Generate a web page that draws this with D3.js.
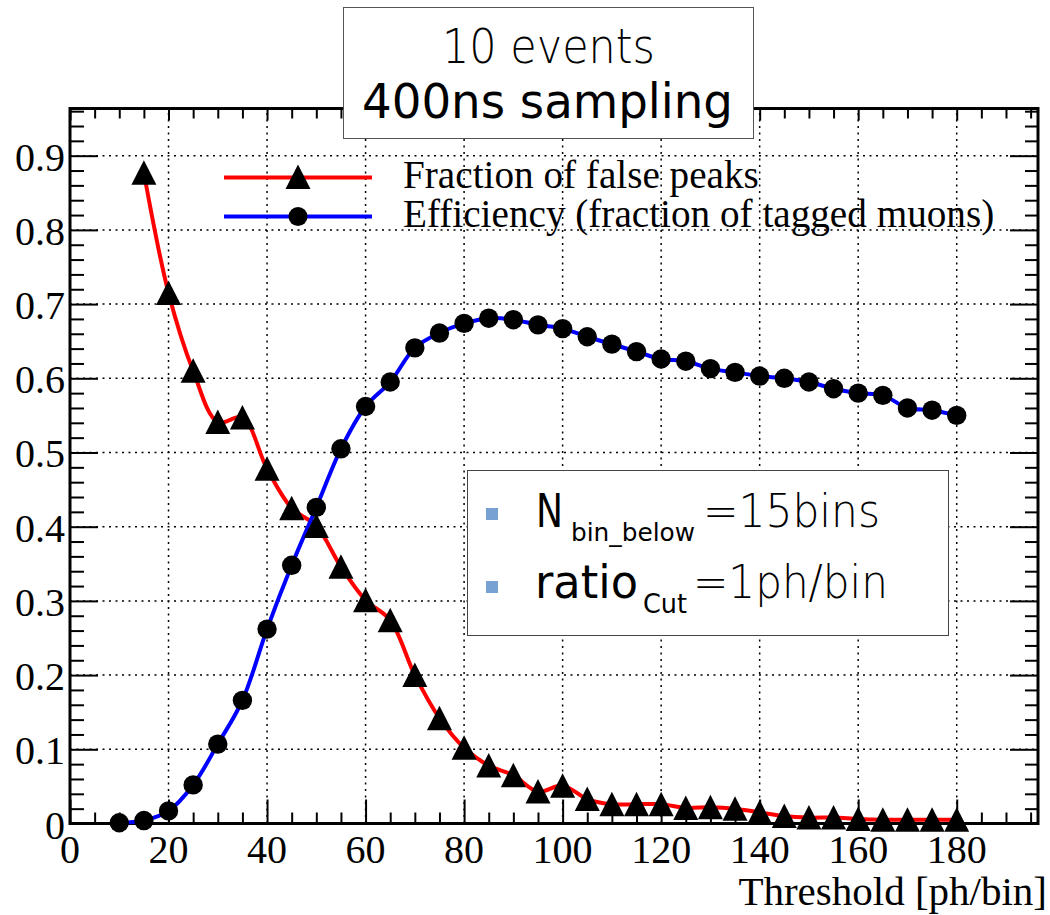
<!DOCTYPE html>
<html>
<head>
<meta charset="utf-8">
<script src="https://cdn.jsdelivr.net/npm/d3@7"></script>
<style>
  body { margin: 0; background: #fff; }
  svg { display: block; }
</style>
</head>
<body>
<script>
// threshold values [ph/bin]
var effX = [10, 15, 20, 25, 30, 35, 40, 45, 50, 55, 60, 65, 70, 75, 80, 85, 90, 95,
            100, 105, 110, 115, 120, 125, 130, 135, 140, 145, 150, 155, 160, 165, 170, 175, 180];
// efficiency (fraction of tagged muons)
var effY = [0.001, 0.004, 0.017, 0.052, 0.107, 0.166, 0.262, 0.348, 0.426, 0.505, 0.562, 0.595,
            0.641, 0.661, 0.674, 0.681, 0.679, 0.672, 0.667, 0.656, 0.646, 0.636, 0.626, 0.623,
            0.613, 0.608, 0.603, 0.600, 0.595, 0.586, 0.580, 0.577, 0.560, 0.557, 0.550];

var fakeX = [15, 20, 25, 30, 35, 40, 45, 50, 55, 60, 65, 70, 75, 80, 85, 90, 95,
             100, 105, 110, 115, 120, 125, 130, 135, 140, 145, 150, 155, 160, 165, 170, 175, 180];
// fraction of false peaks
var fakeY = [0.877, 0.715, 0.610, 0.541, 0.547, 0.478, 0.425, 0.401, 0.346, 0.301, 0.274,
             0.200, 0.142, 0.102, 0.078, 0.065, 0.043, 0.051, 0.033, 0.026, 0.026, 0.026,
             0.021, 0.022, 0.020, 0.015, 0.010, 0.008, 0.008, 0.006, 0.005, 0.005, 0.005, 0.005];

var xMajor = [0, 20, 40, 60, 80, 100, 120, 140, 160, 180];
var xMinor = [5, 10, 15, 25, 30, 35, 45, 50, 55, 65, 70, 75, 85, 90, 95, 105, 110, 115,
              125, 130, 135, 145, 150, 155, 165, 170, 175, 185, 190, 195];
var yMajor = [0, 0.1, 0.2, 0.3, 0.4, 0.5, 0.6, 0.7, 0.8, 0.9];
var yMinor = [0.02, 0.04, 0.06, 0.08, 0.12, 0.14, 0.16, 0.18, 0.22, 0.24, 0.26, 0.28,
              0.32, 0.34, 0.36, 0.38, 0.42, 0.44, 0.46, 0.48, 0.52, 0.54, 0.56, 0.58,
              0.62, 0.64, 0.66, 0.68, 0.72, 0.74, 0.76, 0.78, 0.82, 0.84, 0.86, 0.88,
              0.92, 0.94, 0.96];

var legendLabels = ["Fraction of false peaks", "Efficiency (fraction of tagged muons)"];
var titleLines = ["10 events", "400ns sampling"];

var width = 1050,
    height = 915,
    frameLeft = 70,
    frameRight = 1038,
    frameTop = 108.5,
    frameBottom = 823.5;

var serif = "'Liberation Serif', 'Times New Roman', serif";
var sans = "'DejaVu Sans', sans-serif";

var svg = d3.select("body")
    .append("svg")
    .attr("width", width)
    .attr("height", height);

var xScale = d3.scaleLinear().domain([0, 196.5]).range([frameLeft, frameRight]);
var yScale = d3.scaleLinear().domain([0, 0.9636]).range([frameBottom, frameTop]);

// grid
var grid = svg.append("g")
    .attr("stroke", "#000")
    .attr("stroke-width", 1.5)
    .attr("stroke-dasharray", "2,4.5");
grid.selectAll("line.gx")
    .data(xMajor.slice(1))
    .enter()
    .append("line")
        .attr("x1", function(d) { return xScale(d); })
        .attr("x2", function(d) { return xScale(d); })
        .attr("y1", frameBottom)
        .attr("y2", frameTop);
grid.selectAll("line.gy")
    .data(yMajor.slice(1))
    .enter()
    .append("line")
        .attr("x1", frameLeft)
        .attr("x2", frameRight)
        .attr("y1", function(d) { return yScale(d); })
        .attr("y2", function(d) { return yScale(d); });

// axes: major + minor ticks on all four sides, pointing inward
function tickAxis(axis, vals, size, tr) {
    var g = svg.append("g")
        .attr("transform", tr)
        .call(axis.tickValues(vals).tickSize(-size).tickFormat(""));
    g.select(".domain").remove();
    g.selectAll(".tick line").attr("stroke", "#000").attr("stroke-width", 2);
    return g;
}
tickAxis(d3.axisBottom(xScale), xMinor, 11, "translate(0," + frameBottom + ")");
tickAxis(d3.axisBottom(xScale), xMajor, 24, "translate(0," + frameBottom + ")");
tickAxis(d3.axisTop(xScale), xMinor, 10, "translate(0," + frameTop + ")");
tickAxis(d3.axisTop(xScale), xMajor, 12, "translate(0," + frameTop + ")");
tickAxis(d3.axisLeft(yScale), yMinor, 14, "translate(" + frameLeft + ",0)");
tickAxis(d3.axisLeft(yScale), yMajor, 28, "translate(" + frameLeft + ",0)");
tickAxis(d3.axisRight(yScale), yMinor, 13, "translate(" + frameRight + ",0)");
tickAxis(d3.axisRight(yScale), yMajor, 28, "translate(" + frameRight + ",0)");

// tick labels
svg.append("g").selectAll("text")
    .data(xMajor)
    .enter()
    .append("text")
        .attr("x", function(d) { return xScale(d); })
        .attr("y", frameBottom + 39)
        .attr("text-anchor", "middle")
        .style("font-family", serif)
        .style("font-size", "40px")
        .text(function(d) { return d; });
svg.append("g").selectAll("text")
    .data(yMajor)
    .enter()
    .append("text")
        .attr("x", 65)
        .attr("y", function(d) { return yScale(d) + 15; })
        .attr("text-anchor", "end")
        .style("font-family", serif)
        .style("font-size", "40px")
        .text(function(d) { return d === 0 ? "0" : d3.format(".1f")(d); });

svg.append("text")
    .attr("x", 1047)
    .attr("y", 905)
    .attr("text-anchor", "end")
    .style("font-family", serif)
    .style("font-size", "41px")
    .text("Threshold [ph/bin]");

// frame
svg.append("rect")
    .attr("x", frameLeft)
    .attr("y", frameTop)
    .attr("width", frameRight - frameLeft)
    .attr("height", frameBottom - frameTop)
    .attr("fill", "none")
    .attr("stroke", "#000")
    .attr("stroke-width", 3);

// curves
var smooth = d3.line()
    .x(function(d) { return xScale(d[0]); })
    .y(function(d) { return yScale(d[1]); })
    .curve(d3.curveCatmullRom.alpha(0.5));

var fake = d3.zip(fakeX, fakeY);
var eff = d3.zip(effX, effY);

svg.append("path")
    .attr("d", smooth(fake))
    .attr("fill", "none")
    .attr("stroke", "#ff0000")
    .attr("stroke-width", 4);
svg.append("path")
    .attr("d", smooth(eff))
    .attr("fill", "none")
    .attr("stroke", "#0000ff")
    .attr("stroke-width", 4);

function triangle(cx, cy) {
    return "M" + cx + "," + (cy - 12.5) + "L" + (cx + 12.5) + "," + (cy + 12) +
           "L" + (cx - 12.5) + "," + (cy + 12) + "Z";
}

svg.append("g").selectAll("path")
    .data(fake)
    .enter()
    .append("path")
        .attr("d", function(d) { return triangle(xScale(d[0]), yScale(d[1])); })
        .attr("fill", "#000");
svg.append("g").selectAll("circle")
    .data(eff)
    .enter()
    .append("circle")
        .attr("cx", function(d) { return xScale(d[0]); })
        .attr("cy", function(d) { return yScale(d[1]); })
        .attr("r", 9.7)
        .attr("fill", "#000");

// legend (no box)
var lg = svg.append("g");
lg.append("line").attr("x1", 224).attr("x2", 372).attr("y1", 177.5).attr("y2", 177.5)
    .attr("stroke", "#ff0000").attr("stroke-width", 4);
lg.append("path").attr("d", triangle(298, 177)).attr("fill", "#000");
lg.append("line").attr("x1", 224).attr("x2", 372).attr("y1", 216.5).attr("y2", 216.5)
    .attr("stroke", "#0000ff").attr("stroke-width", 4);
lg.append("circle").attr("cx", 298).attr("cy", 216.5).attr("r", 9.5).attr("fill", "#000");
lg.selectAll("text")
    .data(legendLabels)
    .enter()
    .append("text")
        .attr("x", 403)
        .attr("y", function(d, i) { return 188 + i * 39; })
        .style("font-family", serif)
        .style("font-size", "39.2px")
        .text(function(d) { return d; });

// title box
svg.append("rect")
    .attr("x", 343.5).attr("y", 7.5)
    .attr("width", 410).attr("height", 131)
    .attr("fill", "#fff")
    .attr("stroke", "#555")
    .attr("stroke-width", 1);
svg.append("text")
    .attr("x", 442).attr("y", 63)
    .attr("textLength", 213).attr("lengthAdjust", "spacingAndGlyphs")
    .style("font-family", sans).style("font-weight", 200)
    .style("font-size", "48px")
    .text(titleLines[0]);
svg.append("text")
    .attr("x", 362).attr("y", 118)
    .attr("textLength", 371).attr("lengthAdjust", "spacingAndGlyphs")
    .style("font-family", sans)
    .style("font-size", "48px")
    .text(titleLines[1]);

// parameter box
svg.append("rect")
    .attr("x", 467.5).attr("y", 470.5)
    .attr("width", 481).attr("height", 165)
    .attr("fill", "#fff")
    .attr("stroke", "#444")
    .attr("stroke-width", 1);
var pb = svg.append("g").style("font-family", sans);
pb.append("rect").attr("x", 486).attr("y", 508).attr("width", 12).attr("height", 12).attr("fill", "#77a1d3");
pb.append("rect").attr("x", 486).attr("y", 581).attr("width", 12).attr("height", 12).attr("fill", "#77a1d3");

function piece(x, y, w, size, weight, txt) {
    pb.append("text")
        .attr("x", x).attr("y", y)
        .attr("textLength", w).attr("lengthAdjust", "spacingAndGlyphs")
        .style("font-size", size + "px")
        .style("font-weight", weight)
        .text(txt);
}
piece(536, 527, 27, 47, 400, "N");
piece(571, 541, 124, 25, 400, "bin_below");
piece(703, 527, 177, 47, 200, "=15bins");
piece(535, 598, 103, 47, 400, "ratio");
piece(643, 613, 44, 27, 400, "Cut");
piece(693, 598, 195, 47, 200, "=1ph/bin");
</script>
</body>
</html>
